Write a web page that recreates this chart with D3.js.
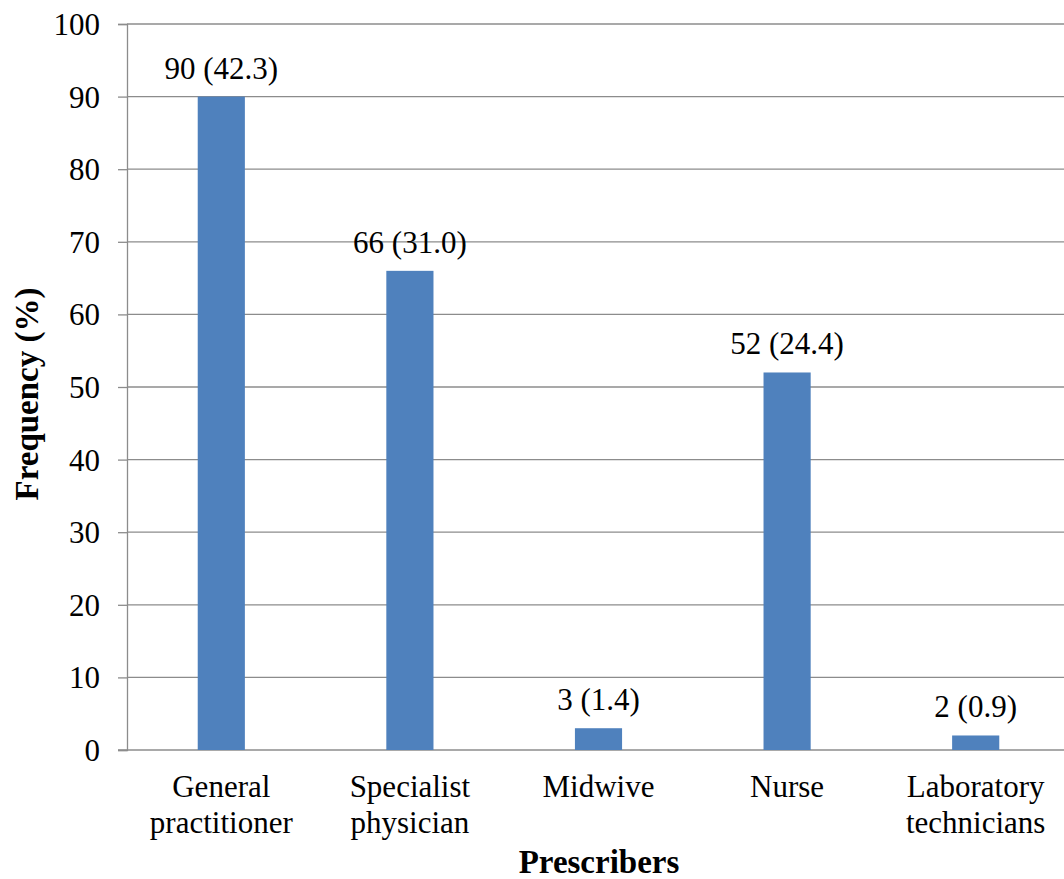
<!DOCTYPE html>
<html>
<head>
<meta charset="utf-8">
<script src="https://cdn.jsdelivr.net/npm/d3@7"></script>
<style>
  html, body { margin: 0; padding: 0; background: #fff; }
  svg { display: block; }
</style>
</head>
<body>
<svg id="chart" width="1064" height="879"></svg>
<script>
// Prescribers of the medicines: count (percentage)
const categories = [["General", "practitioner"], ["Specialist", "physician"], ["Midwive"], ["Nurse"], ["Laboratory", "technicians"]];
const counts = [90, 66, 3, 52, 2];
const percents = ["42.3", "31.0", "1.4", "24.4", "0.9"];
const yTicks = [0, 10, 20, 30, 40, 50, 60, 70, 80, 90, 100];

const FONT = "Liberation Serif";
const FS = 31;
const FS_TITLE = 33;

const svg = d3.select("#chart");
const plotLeft = 127, plotRight = 1070, plotTop = 24, plotBottom = 750;

const x = d3.scaleBand()
  .domain(d3.range(categories.length))
  .range([plotLeft, plotRight])
  .padding(0);
const y = d3.scaleLinear().domain([0, 100]).range([plotBottom, plotTop]);
const barW = x.bandwidth() * 0.25;

// horizontal gridlines
svg.append("g").selectAll("line")
  .data(yTicks.filter(d => d > 0))
  .join("line")
  .attr("x1", plotLeft).attr("x2", 1064)
  .attr("y1", d => y(d)).attr("y2", d => y(d))
  .attr("stroke", "#8c8c8c").attr("stroke-width", 1.3);

// y axis
const yAxis = svg.append("g")
  .attr("transform", `translate(${plotLeft},0)`)
  .call(d3.axisLeft(y).tickValues(yTicks).tickSize(9).tickPadding(18));
yAxis.attr("font-family", FONT).attr("font-size", FS);
yAxis.select(".domain").attr("stroke", "#8c8c8c").attr("stroke-width", 1.3);
yAxis.selectAll(".tick line").attr("stroke", "#8c8c8c").attr("stroke-width", 1.3);
yAxis.selectAll(".tick text")
  .style("font-family", FONT)
  .style("font-size", FS + "px")
  .attr("fill", "#000")
  .attr("dy", "0.34em");

// baseline
svg.append("line")
  .attr("x1", plotLeft - 9).attr("x2", 1064)
  .attr("y1", y(0)).attr("y2", y(0))
  .attr("stroke", "#8c8c8c").attr("stroke-width", 1.3);

// bars
svg.append("g").selectAll("rect")
  .data(counts)
  .join("rect")
  .attr("x", (d, i) => x(i) + x.bandwidth() / 2 - barW / 2)
  .attr("y", d => y(d))
  .attr("width", barW)
  .attr("height", d => y(0) - y(d))
  .attr("fill", "#4f81bd");

// value labels
svg.append("g").selectAll("text")
  .data(counts)
  .join("text")
  .attr("x", (d, i) => x(i) + x.bandwidth() / 2)
  .attr("y", d => y(d) - 18)
  .attr("text-anchor", "middle")
  .style("font-family", FONT)
  .style("font-size", FS + "px")
  .attr("fill", "#000")
  .text((d, i) => `${d} (${percents[i]})`);

// category labels
const cat = svg.append("g").selectAll("text")
  .data(categories)
  .join("text")
  .attr("x", (d, i) => x(i) + x.bandwidth() / 2)
  .attr("y", 797)
  .attr("text-anchor", "middle")
  .style("font-family", FONT)
  .style("font-size", FS + "px")
  .attr("fill", "#000");
cat.selectAll("tspan")
  .data(d => d)
  .join("tspan")
  .attr("x", function () { return d3.select(this.parentNode).attr("x"); })
  .attr("dy", (d, j) => j === 0 ? 0 : 36)
  .text(d => d);

// axis titles
svg.append("text")
  .attr("x", 599)
  .attr("y", 873)
  .attr("text-anchor", "middle")
  .style("font-family", FONT)
  .style("font-size", FS_TITLE + "px")
  .style("font-weight", "bold")
  .attr("fill", "#000")
  .text("Prescribers");

svg.append("text")
  .attr("transform", `translate(38,394) rotate(-90)`)
  .attr("text-anchor", "middle")
  .style("font-family", FONT)
  .style("font-size", FS_TITLE + "px")
  .style("font-weight", "bold")
  .attr("fill", "#000")
  .text("Frequency (%)");
</script>
</body>
</html>
